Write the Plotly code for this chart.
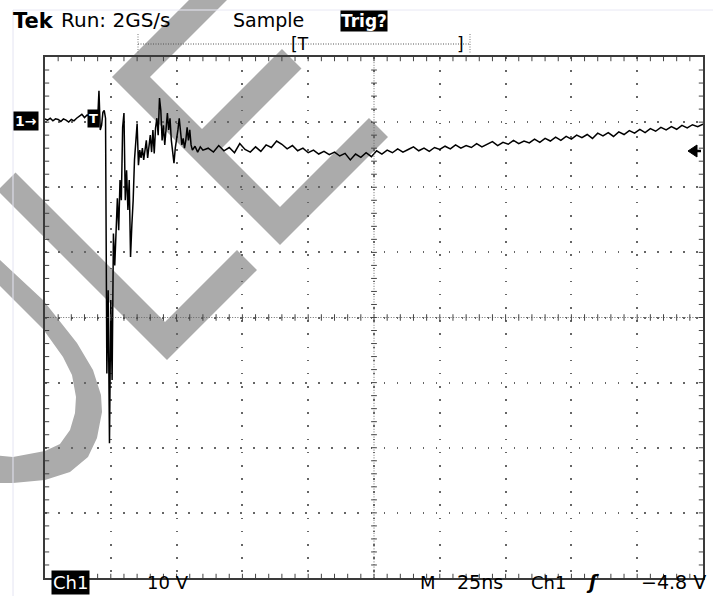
import plotly.graph_objects as go

W, H = 713, 596

# ---------------- data (ns, V) ----------------
t_pre = [0, 1, 2, 3, 4, 5, 6, 7, 8, 9, 10, 11, 12, 13, 14, 15, 16, 17, 18, 19, 20]
v_pre = [0.5, 0.3, 0.6, 0.2, 0.5, 0.4, 0.1, 0.5, 0.3, 0.0, 0.4, 0.2, 0.6, 0.9, 1.2,
         0.7, 1.1, 0.8, 0.3, 0.6, 0.3]

t_ring = [20.5, 21.0, 21.5, 22.0, 22.5, 23.0, 23.5, 24.0, 24.5, 25.0, 25.5, 26.0,
          26.5, 27.0, 27.5, 28.0, 28.5, 29.0, 29.5, 30.0, 30.5, 31.0, 31.5, 32.0,
          32.5, 33.0, 33.5, 34.0, 34.5, 35.0, 35.5, 36.0, 36.5, 37.0, 37.5, 38.0,
          38.5, 39.0, 39.5, 40.0, 40.5, 41.0, 41.5, 42.0, 42.5, 43.0, 43.5, 44.0,
          44.5, 45.0, 45.5, 46.0, 46.5, 47.0, 47.5, 48.0, 48.5, 49.0, 49.5, 50.0,
          50.5, 51.0, 51.5, 52.0, 52.5, 53.0, 53.5, 54.0, 54.5, 55.0, 55.5, 56.0]
v_ring = [4.8, -1.2, -0.5, 1.5, 1.8, 0.6, -38.6, -25.8, -49.3, -27.3, -39.6, -17.1,
          -22.0, -16.9, -11.7, -16.6, -8.9, -12.0, -0.8, 1.4, -12.0, -7.4, -13.5, -8.9,
          -20.7, -15.8, -12.0, -5.8, -2.0, -0.2, -6.6, -4.3, -5.5, -4.0, -5.8, -4.6,
          -2.8, -5.5, -3.5, -2.0, -4.6, -1.2, -4.8, -0.9, 0.6, -2.0, 3.7, 1.8,
          -2.8, -0.5, -3.5, -0.5, 1.4, -1.2, 0.6, -2.8, -4.3, -6.3, -4.0, -2.8,
          -1.2, 0.6, -2.0, -3.5, -2.5, -4.0, -2.8, -0.8, -2.8, -1.2, -3.5, -4.3]

t_tail = [57, 58, 59, 60] + list(range(62, 251, 2))
v_tail = [-3.7, -4.6, -3.8, -4.3,
          -4.0, -4.6, -3.6, -4.4, -3.9, -4.7, -3.3, -4.2, -4.6, -3.8,
          -4.5, -3.5, -3.9, -2.9, -3.4, -4.1, -3.6, -4.4, -4.0, -4.7,
          -4.3, -4.9, -4.5, -5.0, -4.6, -5.2, -4.8, -5.8, -4.9, -5.4,
          -4.7, -5.3, -4.4, -4.9, -4.3, -4.7, -4.1, -4.6, -4.2, -3.8,
          -4.4, -4.0, -4.5, -3.9, -4.2, -3.7, -4.1, -3.5, -4.0, -3.6,
          -3.9, -3.3, -3.8, -3.4, -3.0, -3.6, -3.1, -3.4, -2.8, -3.3,
          -2.9, -3.2, -2.6, -3.1, -2.5, -2.9, -2.3, -2.8, -2.2, -2.6,
          -2.0, -2.4, -1.9, -2.5, -1.7, -2.1, -1.6, -2.2, -1.5, -1.9,
          -1.3, -1.7, -1.1, -1.6, -1.0, -1.4, -0.8, -1.2, -0.7, -1.1,
          -0.5, -0.9, -0.4, -0.7, -0.3]

time_ns = t_pre + t_ring + t_tail
volts = v_pre + v_ring + v_tail

X_RANGE = [0, 250]      # 25 ns/div, 10 div
Y_RANGE = [-70, 10]     # 10 V/div, 8 div, ground 3 div above centre

# ---------------- helpers ----------------
def px(x, y):
    return x / W, 1 - y / H

def path(points):
    s = ""
    for i, (x, y) in enumerate(points):
        X, Y = px(x, y)
        s += ("M" if i == 0 else "L") + f"{X:.5f},{Y:.5f} "
    return s + "Z"

fig = go.Figure()
fig.add_trace(go.Scatter(x=time_ns, y=volts, mode="lines",
                         line=dict(color="black", width=1.5),
                         hoverinfo="skip", showlegend=False))

shapes = []
WM = "#ababab"
# watermark letters (decoration)
E = [(112, 77), (219.5, -30.5), (238.5, -11.5), (150, 77), (202, 129), (282, 49),
     (301.5, 68.5), (221.5, 148.5), (280, 207), (369, 118), (388, 137), (280, 245)]
L = [(15.5, 172.5), (165, 322), (237, 250), (257, 270), (167, 360), (-2.5, 190.5)]
C_out = [(-10, 250), (0, 260), (43, 300), (77, 343), (93, 370), (101, 395), (102, 412),
         (97, 438), (88, 457), (70, 472), (45, 480), (13, 483), (-10, 483)]
C_in = [(-10, 455), (13, 457), (45, 451), (60, 444), (70, 430), (75, 413), (76, 397),
        (72, 375), (63, 357), (43, 329), (0, 286), (-10, 277)]
for poly in (E, L, C_out + C_in):
    shapes.append(dict(type="path", xref="paper", yref="paper", path=path(poly),
                       fillcolor=WM, line=dict(width=0), layer="below"))

# faint screen frame
x0, y0 = px(13, 10); x1, y1 = px(13, 596)
shapes.append(dict(type="line", xref="paper", yref="paper", x0=x0, y0=y0, x1=x1, y1=y1,
                   line=dict(color="#e4e4f2", width=1)))
x0, y0 = px(13, 10); x1, y1 = px(713, 10)
shapes.append(dict(type="line", xref="paper", yref="paper", x0=x0, y0=y0, x1=x1, y1=y1,
                   line=dict(color="#e8e8f4", width=1)))

# graticule centre lines
GC = "#6a6a6a"
shapes.append(dict(type="line", xref="x", yref="y", x0=X_RANGE[0], x1=X_RANGE[1], y0=-30, y1=-30,
                   line=dict(color=GC, width=1, dash="1px,1.6px")))
shapes.append(dict(type="line", xref="x", yref="y", x0=125, x1=125, y0=Y_RANGE[0], y1=Y_RANGE[1],
                   line=dict(color=GC, width=1, dash="1px,1.6px")))
# minor ticks on border and centre lines
for t in range(5, 250, 5):
    for (ya, yb) in ((10, 9.35), (-70, -69.35), (-30.5, -29.5)):
        shapes.append(dict(type="line", xref="x", yref="y", x0=t, x1=t, y0=ya, y1=yb,
                           line=dict(color="#444", width=1)))
for v in range(-68, 10, 2):
    for (xa, xb) in ((0, 1.6), (250, 248.4), (123.9, 126.1)):
        shapes.append(dict(type="line", xref="x", yref="y", x0=xa, x1=xb, y0=v, y1=v,
                           line=dict(color="#444", width=1)))

# record view bar in header
x0, y0 = px(138, 44); x1, y1 = px(470, 44)
shapes.append(dict(type="line", xref="paper", yref="paper", x0=x0, y0=y0, x1=x1, y1=y1,
                   line=dict(color="#555", width=1, dash="1px,1.5px")))
for xx in (138, 470):
    a0, b0 = px(xx, 34); a1, b1 = px(xx, 53)
    shapes.append(dict(type="line", xref="paper", yref="paper", x0=a0, y0=b0, x1=a1, y1=b1,
                       line=dict(color="#777", width=1, dash="1px,1.5px")))

# trigger level arrow on right
shapes.append(dict(type="path", xref="paper", yref="paper",
                   path=path([(688, 151), (697, 145), (697, 157)]),
                   fillcolor="black", line=dict(color="black", width=1)))
a0, b0 = px(696, 151); a1, b1 = px(701, 151)
shapes.append(dict(type="line", xref="paper", yref="paper", x0=a0, y0=b0, x1=a1, y1=b1,
                   line=dict(color="black", width=2.5)))

# ---------------- texts ----------------
ann = []
def text(x, y, s, size=17, color="black", bg=None, anchor="left", bold=False,
         family="DejaVu Sans", pad=1, yanchor="middle"):
    X, Y = px(x, y)
    ann.append(dict(xref="paper", yref="paper", x=X, y=Y, text=(f"<b>{s}</b>" if bold else s),
                    showarrow=False, xanchor=anchor, yanchor=yanchor,
                    font=dict(family=family, size=size, color=color),
                    bgcolor=bg, borderpad=pad))

text(11, 21, "Tek", size=21, bold=True)
text(59, 20, "Run: 2GS/s", size=20)
text(231, 20, "Sample", size=19)
text(364, 21, "Trig?", size=17, color="white", bg="black", anchor="center", bold=True, pad=0)
text(289, 44, "[T", size=17)
text(455, 44, "]", size=17)

text(25.5, 121.5, "1→", size=14, color="white", bg="black", anchor="center", bold=True, pad=1)
text(93.5, 118.5, "T", size=13, color="white", bg="black", anchor="center", bold=True, pad=1)

BF = "DejaVu Sans"
BY = 595
text(70.5, BY, "Ch1", size=18, color="white", bg="black", anchor="center", family=BF, pad=1,
     yanchor="bottom")
text(145, BY, "10 V", size=18, family=BF, yanchor="bottom")
text(418, BY, "M", size=18, family=BF, yanchor="bottom")
text(455, BY, "25ns", size=19, family=BF, yanchor="bottom")
text(529, BY, "Ch1", size=18, family=BF, yanchor="bottom")
text(592, BY, "<i>ʃ</i>", size=19, anchor="center", family=BF, bold=True, yanchor="bottom")
text(708, BY, "−4.8 V", size=19, anchor="right", family=BF, yanchor="bottom")

axis_common = dict(showticklabels=False, ticks="", zeroline=False, showline=True,
                   linecolor="#3a3a3a", linewidth=2, mirror=True, showgrid=True,
                   gridcolor="#666", gridwidth=1.6, fixedrange=True)

fig.update_layout(
    width=W, height=H, margin=dict(l=0, r=0, t=0, b=0),
    paper_bgcolor="white", plot_bgcolor="rgba(0,0,0,0)",
    xaxis=dict(range=X_RANGE, domain=[45 / W, 703 / W], tick0=0, dtick=25,
               griddash="1.6px,11.56px", **axis_common),
    yaxis=dict(range=Y_RANGE, domain=[1 - 578 / H, 1 - 57 / H], tick0=0, dtick=10,
               griddash="1.6px,11.42px", **axis_common),
    shapes=shapes, annotations=ann, showlegend=False,
)

fig.write_html("out.html")
